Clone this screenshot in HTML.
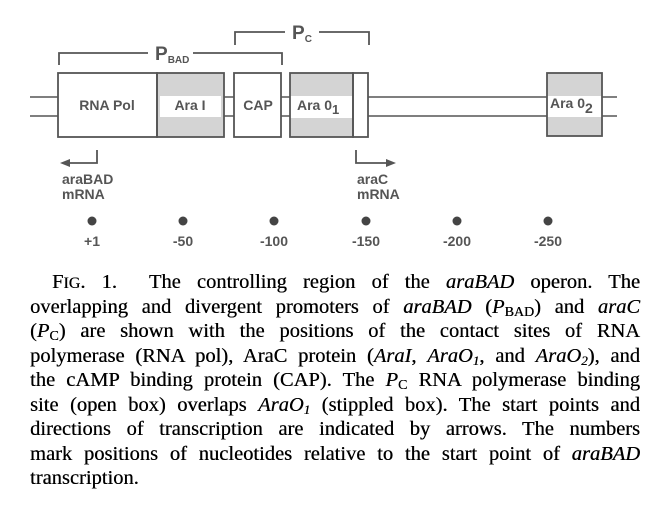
<!DOCTYPE html>
<html><head><meta charset="utf-8"><style>
body{margin:0;width:657px;height:505px;background:#fff;overflow:hidden;position:relative}
svg{position:absolute;left:0;top:0}
.cap{position:absolute;left:30px;width:610px;font-family:"Liberation Serif",serif;font-size:20.5px;color:#000;text-shadow:0.3px 0 0 #000}
.cap div{height:24.5px;line-height:24.5px;text-align:justify;text-align-last:justify;white-space:nowrap}
.cap div.l{text-align-last:left}
sub{line-height:0;vertical-align:-3px}
</style></head><body>
<svg width="657" height="260" font-family="Liberation Sans, sans-serif" font-weight="bold" fill="#555">
<g stroke="#555" stroke-width="1.5" fill="none">
<line x1="30" y1="97" x2="58" y2="97"/><line x1="30" y1="116" x2="58" y2="116"/>
<line x1="224" y1="97" x2="234" y2="97"/><line x1="224" y1="116" x2="234" y2="116"/>
<line x1="281" y1="97" x2="290" y2="97"/><line x1="281" y1="116" x2="290" y2="116"/>
<line x1="368" y1="97" x2="547" y2="97"/><line x1="368" y1="116" x2="547" y2="116"/>
<line x1="602" y1="97" x2="617" y2="97"/><line x1="602" y1="116" x2="617" y2="116"/>
</g>
<rect x="157" y="73" width="67" height="64" fill="#d4d4d4"/><rect x="160" y="96" width="61" height="21" fill="#fff"/>
<rect x="290" y="73" width="63" height="64" fill="#d4d4d4"/><rect x="290" y="96" width="63" height="22" fill="#fff"/>
<rect x="547" y="73" width="55" height="63" fill="#d4d4d4"/><rect x="547" y="96" width="55" height="21" fill="#fff"/>
<g stroke="#555" stroke-width="1.8" fill="none">
<rect x="58" y="73" width="99" height="64"/><rect x="157" y="73" width="67" height="64"/>
<rect x="234" y="73" width="47" height="64"/><rect x="290" y="73" width="63" height="64"/><rect x="353" y="73" width="15" height="64"/>
<rect x="547" y="73" width="55" height="63"/>
<polyline points="59,65 59,53 148,53"/><polyline points="193,53 282,53 282,65"/>
<polyline points="235,45 235,32 285,32"/><polyline points="319,32 369,32 369,45"/>
<polyline points="97,150 97,163 68,163"/><polyline points="356,150 356,163 388,163"/>
</g>
<polygon points="60,163 70,159 70,167"/><polygon points="396,163 386,159 386,167"/>
<g font-size="14">
<text x="107" y="110" text-anchor="middle">RNA Pol</text>
<text x="190" y="110" text-anchor="middle">Ara I</text>
<text x="258" y="110" text-anchor="middle">CAP</text>
<text x="297" y="110">Ara 0<tspan font-size="13" dy="4">1</tspan></text>
<text x="550" y="108">Ara 0<tspan font-size="14" dy="5">2</tspan></text>
<text x="62" y="184">araBAD</text><text x="62" y="199">mRNA</text>
<text x="357" y="184">araC</text><text x="357" y="199">mRNA</text>
<text x="92" y="246" text-anchor="middle">+1</text>
<text x="183" y="246" text-anchor="middle">-50</text>
<text x="274" y="246" text-anchor="middle">-100</text>
<text x="366" y="246" text-anchor="middle">-150</text>
<text x="457" y="246" text-anchor="middle">-200</text>
<text x="548" y="246" text-anchor="middle">-250</text>
</g>
<text x="155" y="60" font-size="19">P<tspan font-size="10" dy="3">BAD</tspan></text>
<text x="292" y="39" font-size="19">P<tspan font-size="10" dy="3">C</tspan></text>
<g fill="#444"><circle cx="92" cy="221" r="4.5"/><circle cx="183" cy="221" r="4.5"/><circle cx="274" cy="221" r="4.5"/><circle cx="366" cy="221" r="4.5"/><circle cx="457" cy="221" r="4.5"/><circle cx="548" cy="221" r="4.5"/></g>
</svg>
<div class="cap" style="top:270px">
<div style="padding-left:22px">F<span style="font-size:16px">IG</span>. 1.&nbsp; The controlling region of the <i>araBAD</i> operon. The</div>
<div>overlapping and divergent promoters of <i>araBAD</i> (<i>P</i><sub style="font-size:14px">BAD</sub>) and <i>araC</i></div>
<div>(<i>P</i><sub style="font-size:14px">C</sub>) are shown with the positions of the contact sites of RNA</div>
<div>polymerase (RNA pol), AraC protein (<i>AraI</i>, <i>AraO<sub style="font-size:13px">1</sub></i>, and <i>AraO<sub style="font-size:13px">2</sub></i>), and</div>
<div>the cAMP binding protein (CAP). The <i>P</i><sub style="font-size:14px">C</sub> RNA polymerase binding</div>
<div>site (open box) overlaps <i>AraO<sub style="font-size:13px">1</sub></i> (stippled box). The start points and</div>
<div>directions of transcription are indicated by arrows. The numbers</div>
<div>mark positions of nucleotides relative to the start point of <i>araBAD</i></div>
<div class="l">transcription.</div>
</div>
</body></html>
